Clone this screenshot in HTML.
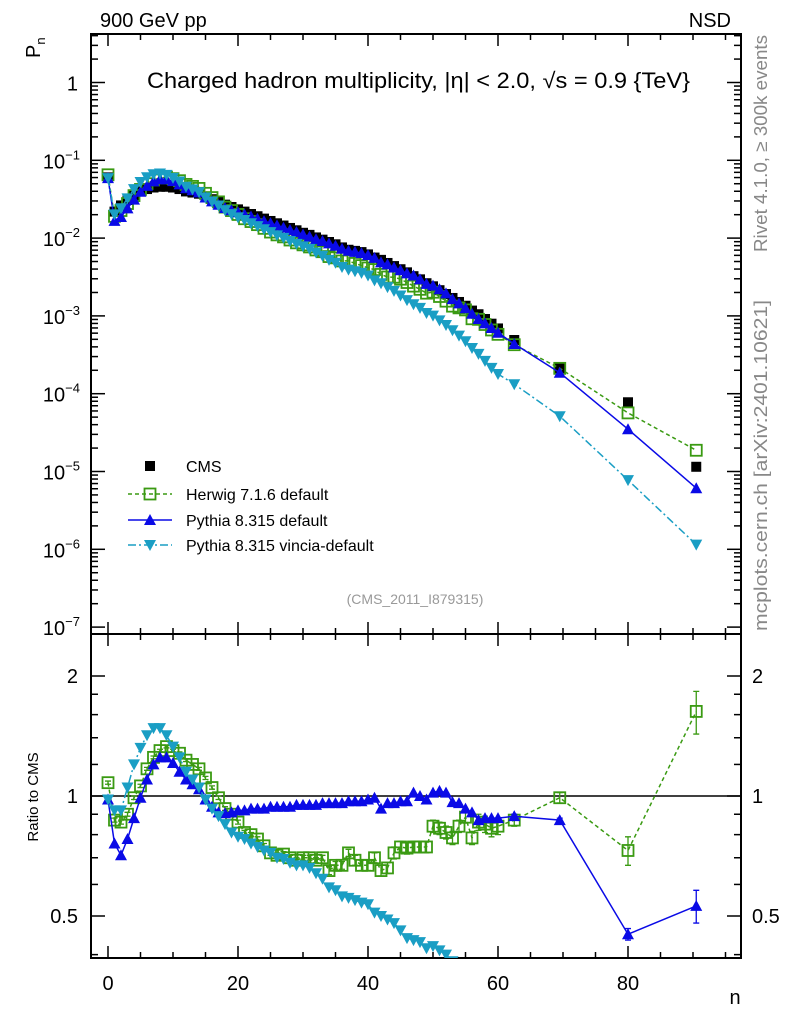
<!DOCTYPE html>
<html><head><meta charset="utf-8"><style>
html,body{margin:0;padding:0;background:#fff;overflow:hidden;}
svg{display:block;font-family:"Liberation Sans",sans-serif;}
</style></head><body>
<svg id="chart" width="786" height="1024" viewBox="0 0 786 1024" xmlns="http://www.w3.org/2000/svg">
<defs>
<clipPath id="clipMain"><rect x="91" y="34" width="650" height="600"/></clipPath>
<clipPath id="clipRatio"><rect x="91" y="634" width="650" height="324"/></clipPath>
</defs>
<g id="axes"></g>
<g id="series"></g>
<text x="100" y="27" font-size="20">900 GeV pp</text>
<text x="731" y="27" font-size="20" text-anchor="end">NSD</text>
<text x="147" y="88" font-size="22" textLength="543" lengthAdjust="spacingAndGlyphs">Charged hadron multiplicity, |η| &lt; 2.0, √s = 0.9 {TeV}</text>
<text x="415" y="604" font-size="14" fill="#999" text-anchor="middle">(CMS_2011_I879315)</text>
<text transform="translate(40,58) rotate(-90)" font-size="20">P<tspan font-size="13" dy="5">n</tspan></text>
<text transform="translate(38,797) rotate(-90)" font-size="15" text-anchor="middle">Ratio to CMS</text>
<text x="735" y="1004" font-size="20" text-anchor="middle">n</text>
<text transform="translate(767,252) rotate(-90)" font-size="18" fill="#888" textLength="217" lengthAdjust="spacingAndGlyphs">Rivet 4.1.0, ≥ 300k events</text>
<text transform="translate(767,631) rotate(-90)" font-size="18" fill="#888" textLength="331" lengthAdjust="spacingAndGlyphs">mcplots.cern.ch [arXiv:2401.10621]</text>
<g id="legend"></g>
</svg>
<script>
const nBins = [0,1,2,3,4,5,6,7,8,9,10,11,12,13,14,15,16,17,18,19,20,21,22,23,24,25,26,27,28,29,30,31,32,33,34,35,36,37,38,39,40,41,42,43,44,45,46,47,48,49,50,51,52,53,54,55,56,57,58,59,60,62.5,69.5,80,90.5];
const cmsValues = [0.0603,0.0219,0.0263,0.0309,0.0355,0.0398,0.0427,0.0447,0.0457,0.0457,0.0447,0.0427,0.0398,0.0385,0.0372,0.0339,0.0316,0.0295,0.0269,0.0251,0.0234,0.0219,0.0204,0.0191,0.0178,0.0166,0.0155,0.0145,0.0135,0.0126,0.0117,0.0110,0.0102,0.00955,0.00891,0.00832,0.00759,0.00708,0.00685,0.00661,0.00617,0.00562,0.00525,0.00479,0.00437,0.00398,0.00363,0.00324,0.00295,0.00263,0.00240,0.00214,0.00191,0.00170,0.00151,0.00135,0.00117,0.00105,0.000912,0.000794,0.00069,0.000490,0.000214,0.0000776,0.0000115];
const herwigRatio = [1.08,0.87,0.86,0.90,0.99,1.06,1.17,1.25,1.30,1.33,1.30,1.28,1.23,1.20,1.17,1.11,1.05,0.99,0.93,0.90,0.86,0.81,0.80,0.78,0.75,0.72,0.71,0.715,0.70,0.69,0.70,0.70,0.69,0.70,0.65,0.67,0.67,0.72,0.69,0.67,0.67,0.70,0.65,0.66,0.72,0.745,0.74,0.745,0.745,0.745,0.84,0.83,0.81,0.785,0.84,0.885,0.785,0.86,0.85,0.83,0.84,0.87,0.99,0.73,1.63];
const herwigErr = [0.01,0.01,0.01,0.01,0.01,0.01,0.01,0.01,0.01,0.01,0.01,0.01,0.01,0.01,0.01,0.01,0.01,0.01,0.01,0.01,0.01,0.01,0.01,0.01,0.01,0.01,0.01,0.01,0.01,0.01,0.01,0.01,0.01,0.01,0.015,0.015,0.015,0.015,0.02,0.02,0.02,0.02,0.02,0.02,0.025,0.025,0.025,0.025,0.025,0.025,0.03,0.03,0.03,0.03,0.03,0.03,0.03,0.04,0.04,0.04,0.04,0.03,0.03,0.06,0.2];
const pythiaRatio = [0.98,0.76,0.71,0.78,0.88,0.99,1.10,1.20,1.25,1.25,1.21,1.15,1.10,1.07,1.04,0.98,0.94,0.91,0.905,0.91,0.92,0.92,0.93,0.93,0.93,0.94,0.94,0.94,0.94,0.95,0.95,0.95,0.95,0.96,0.96,0.96,0.96,0.97,0.97,0.97,0.98,0.99,0.93,0.96,0.96,0.97,0.97,1.02,1.00,0.98,1.02,1.03,1.02,0.965,0.96,0.93,0.91,0.87,0.88,0.88,0.88,0.89,0.87,0.45,0.53];
const pythiaErr = [0,0,0,0,0,0,0,0,0,0,0,0,0,0,0,0,0,0,0,0,0,0,0,0,0,0,0,0,0,0,0,0,0,0,0,0,0,0,0,0,0,0,0,0,0,0,0,0,0,0,0,0,0,0,0,0,0,0,0,0,0,0.01,0.01,0.015,0.05];
const vinciaRatio = [0.98,0.92,0.92,1.05,1.20,1.32,1.42,1.48,1.48,1.42,1.33,1.25,1.15,1.10,1.05,0.98,0.93,0.89,0.85,0.81,0.79,0.78,0.76,0.745,0.73,0.72,0.70,0.695,0.68,0.67,0.67,0.66,0.64,0.62,0.59,0.58,0.56,0.555,0.548,0.54,0.535,0.51,0.50,0.49,0.48,0.46,0.44,0.435,0.43,0.415,0.42,0.41,0.40,0.385,0.37,0.35,0.33,0.31,0.29,0.27,0.26,0.27,0.24,0.10,0.10];
const xTicks = [0,20,40,60,80];
const mainDecades = [0,-1,-2,-3,-4,-5,-6,-7];
const ratioTicks = [0.5,1,2];

const NS='http://www.w3.org/2000/svg';
const L=91,R=741,T=34,M=634,B=958;
const xs=n=>108+6.5*n;
const ym=v=>82.5-77.8*Math.log10(v);
const yr=r=>796-120*Math.log2(r);
function mk(tag,attrs,parent){const e=document.createElementNS(NS,tag);for(const k in attrs)e.setAttribute(k,attrs[k]);parent.appendChild(e);return e;}
const ax=document.getElementById('axes');
const se=document.getElementById('series');

let f1=mk('rect',{x:L,y:T,width:R-L,height:M-T,fill:'none',stroke:'#000','stroke-width':2},ax);


let f2=mk('rect',{x:L,y:M,width:R-L,height:B-M,fill:'none',stroke:'#000','stroke-width':2},ax);



for(let n=0;n<=95;n+=5){
  const x=xs(n);if(x>R)continue;
  const major=n%20===0;const len=major?12:6;
  for(const [y0,dir] of [[T,1],[M,-1],[M,1],[B,-1]]){
    const t=mk('line',{x1:x,x2:x,y1:y0,y2:y0+dir*len,stroke:'#000','stroke-width':1.5},ax);
    
    
  }
}
xTicks.forEach(v=>{
  const t=mk('text',{x:xs(v),y:990,'font-size':20,'text-anchor':'middle'},ax);t.textContent=v;
  
  
});

mainDecades.forEach(d=>{
  for(let m=1;m<10;m++){
    const y=ym(m*Math.pow(10,d));if(y<T||y>M)continue;
    const len=m===1?14:7;
    for(const [x0,dir] of [[L,1],[R,-1]]){
      const t=mk('line',{x1:x0,x2:x0+dir*len,y1:y,y2:y,stroke:'#000','stroke-width':1.5},ax);
      
      
    }
  }
  const y=ym(Math.pow(10,d));
  const t=mk('text',{x:d===0?78:80,y:y+8,'font-size':20,'text-anchor':'end'},ax);
  
  
  if(d===0){t.textContent='1';}
  else{t.textContent='10';const s=mk('tspan',{dy:-9,'font-size':13},t);s.textContent='−'+(-d);}
});

[0.4,0.5,0.6,0.7,0.8,0.9,1,1.2,1.4,1.6,1.8,2].forEach(r=>{
  const y=yr(r);const major=ratioTicks.includes(r);const len=major?14:7;
  for(const [x0,dir] of [[L,1],[R,-1]]){
    const t=mk('line',{x1:x0,x2:x0+dir*len,y1:y,y2:y,stroke:'#000','stroke-width':1.5},ax);
    
    
  }
});
ratioTicks.forEach(r=>{
  const y=yr(r);
  const a=mk('text',{x:78,y:y+7,'font-size':20,'text-anchor':'end'},ax);a.textContent=r;
  
  
  const b=mk('text',{x:752,y:y+7,'font-size':20},ax);b.textContent=r;
  
  
});
const one=mk('line',{x1:L,x2:R,y1:yr(1),y2:yr(1),stroke:'#000','stroke-width':1.5},ax);



function marker(type,x,y,color,g){
  let e;
  if(type==='sq') e=mk('rect',{x:x-5,y:y-5,width:10,height:10,fill:color},g);
  else if(type==='osq') e=mk('rect',{x:x-5.5,y:y-5.5,width:11,height:11,fill:'none',stroke:color,'stroke-width':1.8},g);
  else if(type==='up') e=mk('polygon',{points:`${x},${y-6} ${x-6},${y+5} ${x+6},${y+5}`,fill:color},g);
  else e=mk('polygon',{points:`${x},${y+6} ${x-6},${y-5} ${x+6},${y-5}`,fill:color},g);
  return e;
}
function drawSeries(name,vals,errs,color,type,dash,yf,clip,withLine){
  const g=mk('g',{'clip-path':`url(#${clip})`},se);
  
  
  if(withLine){
    const pts=vals.map((v,i)=>`${xs(nBins[i]).toFixed(1)},${yf(v).toFixed(1)}`).join(' ');
    const l=mk('polyline',{points:pts,fill:'none',stroke:color,'stroke-width':1.5,'stroke-dasharray':dash},g);
    
    
  }
  vals.forEach((v,i)=>{
    const x=xs(nBins[i]),y=yf(v);
    if(errs&&errs[i]>0){
      const hi=yf(v+errs[i]),lo=yf(Math.max(v-errs[i],0.01));
      const e=mk('path',{d:`M${x},${hi}V${lo}M${x-3},${hi}h6M${x-3},${lo}h6`,stroke:color,'stroke-width':1.3,fill:'none'},g);
      
      
    }
    const m=marker(type,x,y,color,g);
    
    
  });
}
const HC='#3a9a12',PC='#0a0ae6',VC='#1a9ec4';
const herwigVals=cmsValues.map((c,i)=>c*herwigRatio[i]);
const pythiaVals=cmsValues.map((c,i)=>c*pythiaRatio[i]);
const vinciaVals=cmsValues.map((c,i)=>c*vinciaRatio[i]);
drawSeries('cms-data',cmsValues,null,'#000','sq','',ym,'clipMain',false);
drawSeries('herwig-main',herwigVals,null,HC,'osq','4,3',ym,'clipMain',true);
drawSeries('pythia-main',pythiaVals,null,PC,'up','',ym,'clipMain',true);
drawSeries('vincia-main',vinciaVals,null,VC,'down','8,3,2,3',ym,'clipMain',true);
drawSeries('herwig-ratio',herwigRatio,herwigErr,HC,'osq','4,3',yr,'clipRatio',true);
drawSeries('pythia-ratio',pythiaRatio,pythiaErr,PC,'up','',yr,'clipRatio',true);
drawSeries('vincia-ratio',vinciaRatio,null,VC,'down','8,3,2,3',yr,'clipRatio',true);

const lg=document.getElementById('legend');
[['CMS','#000','sq',''],['Herwig 7.1.6 default',HC,'osq','4,3'],['Pythia 8.315 default',PC,'up',''],['Pythia 8.315 vincia-default',VC,'down','8,3,2,3']].forEach((e,i)=>{
  const y=[466,494,520,545][i];
  const g=mk('g',{},lg);
  
  
  if(i>0){const l=mk('line',{x1:128,x2:172,y1:y,y2:y,stroke:e[1],'stroke-width':1.5,'stroke-dasharray':e[3]},g);
    
    }
  const m=marker(e[2],150,y,e[1],g);
  
  
  const t=mk('text',{x:186,y:y+6,'font-size':16},g);t.textContent=e[0];
  
  
});
</script>
</body></html>
